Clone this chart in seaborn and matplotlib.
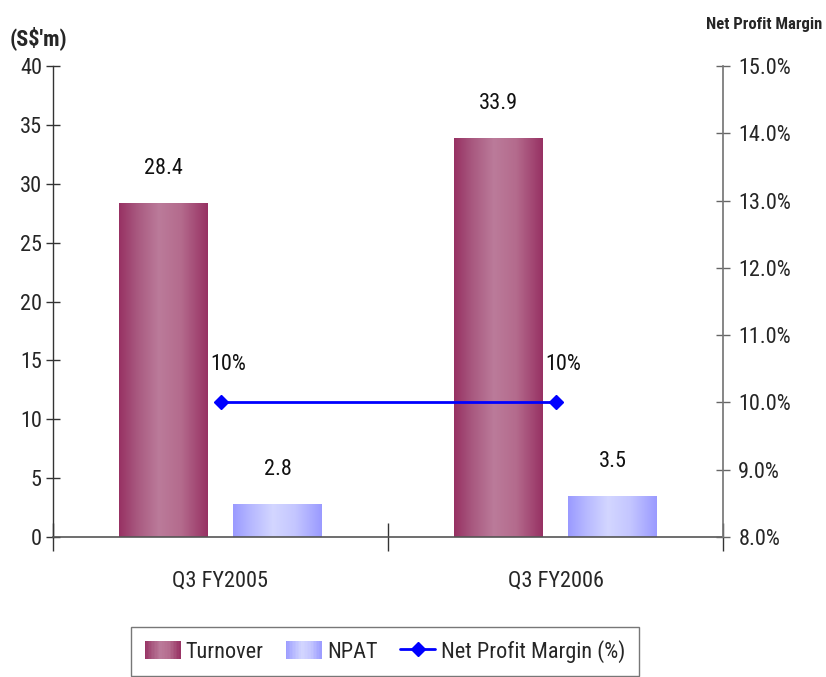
import numpy as np
import pandas as pd
import matplotlib
matplotlib.use("Agg")
import matplotlib.pyplot as plt
from matplotlib import font_manager
from matplotlib.colors import LinearSegmentedColormap
from matplotlib.legend_handler import HandlerBase
from matplotlib.patches import Rectangle
from matplotlib.lines import Line2D
import seaborn as sns

# ---- data ----
quarters = ["Q3 FY2005", "Q3 FY2006"]
turnover = [28.4, 33.9]
npat = [2.8, 3.5]
margin = [10, 10]
series_names = ["Turnover", "NPAT"]

sns.set_theme(style="white")
installed = {f.name for f in font_manager.fontManager.ttflist}
narrow = [n for n in ["Liberation Sans Narrow", "Roboto Condensed", "Open Sans Condensed",
                      "Arial Narrow", "DejaVu Sans Condensed", "Liberation Sans"]
          if n in installed]
plt.rcParams["font.family"] = narrow + ["DejaVu Sans"]
if "Liberation Sans Narrow" not in installed and "Roboto Condensed" not in installed:
    plt.rcParams["font.stretch"] = "condensed"

# gradient colour maps (dark edges, light centre)
turn_cmap = LinearSegmentedColormap.from_list(
    "turn", [(0, "#973163"), (0.2, "#a8587f"), (0.45, "#bb7b9a"), (0.7, "#b46b8d"), (1, "#973163")])
npat_cmap = LinearSegmentedColormap.from_list(
    "npat", [(0, "#9a9aff"), (0.2, "#b6b8ff"), (0.45, "#d3d6ff"), (0.7, "#c4c6ff"), (1, "#9a9aff")])
cmaps = {"Turnover": turn_cmap, "NPAT": npat_cmap}

df = pd.DataFrame({
    "quarter": quarters * 2,
    "series": ["Turnover"] * len(quarters) + ["NPAT"] * len(quarters),
    "value": turnover + npat,
})

fig = plt.figure(figsize=(8.26, 6.77), dpi=100)
ax = fig.add_axes([53 / 826, 1 - 537 / 677, (723 - 53) / 826, (537 - 66) / 677])

sns.barplot(data=df, x="quarter", y="value", hue="series", order=quarters,
            hue_order=series_names, width=0.685, gap=0.226, ax=ax,
            palette={"Turnover": "#973163", "NPAT": "#9a9aff"},
            legend=False, errorbar=None)

FS = 16

# paint gradients into each bar
grad = np.linspace(0, 1, 256).reshape(1, -1)
for cont, name in zip(ax.containers, series_names):
    for patch in cont.patches:
        x0, y0 = patch.get_x(), patch.get_y()
        w, h = patch.get_width(), patch.get_height()
        im = ax.imshow(grad, extent=[x0, x0 + w, y0, y0 + h], aspect="auto",
                       cmap=cmaps[name], zorder=patch.get_zorder() + 0.1)
        im.set_clip_path(patch)
        patch.set_edgecolor("none")
    labels = [f"{v:.1f}" for v in cont.datavalues]
    ax.bar_label(cont, labels=labels, padding=17, fontsize=FS, color="#111111")

ax.set_xlim(-0.5, len(quarters) - 0.5)
ax.set_ylim(0, 40)

# left axis
ax.set_yticks(range(0, 41, 5))
ax.tick_params(axis="y", direction="inout", length=10, width=1, color="#333333",
               labelsize=FS, pad=3, left=True)
ax.set_xlabel("")
ax.set_ylabel("")

# category ticks: labels centred, separators at boundaries
ax.set_xticks(range(len(quarters)))
ax.set_xticklabels(quarters)
ax.set_xticks(np.arange(-0.5, len(quarters), 1.0), minor=True)
ax.tick_params(axis="x", which="major", length=0, labelsize=FS, pad=24)
ax.tick_params(axis="x", which="minor", direction="inout", length=20, width=1,
               color="#333333", bottom=True)

for s in ["top", "right"]:
    ax.spines[s].set_visible(False)
ax.spines["left"].set_color("#333333")
ax.spines["bottom"].set_color("#555555")
ax.spines["left"].set_linewidth(1)
ax.spines["bottom"].set_linewidth(1.2)

# right axis: net profit margin
ax2 = ax.twinx()
x_pos = np.arange(len(quarters))
ax2.plot(x_pos, margin, color="#0000ff", lw=2, marker="D", markersize=7,
         markeredgecolor="#0000ff", markerfacecolor="#0000ff", zorder=5)
ax2.set_ylim(8, 15)
ax2.set_yticks(np.arange(8, 15.01, 1))
ax2.set_yticklabels([f"{v:.1f}%" for v in np.arange(8, 15.01, 1)])
ax2.tick_params(axis="y", direction="inout", length=10, width=1, color="#666666",
                labelsize=FS, pad=6, right=True)
for s in ["top", "left", "bottom"]:
    ax2.spines[s].set_visible(False)
ax2.spines["right"].set_color("#777777")
ax2.grid(False)
for xp, m in zip(x_pos, margin):
    ax2.annotate(f"{m:.0f}%", (xp, m), xytext=(-7, 20), textcoords="offset points",
                 ha="left", va="bottom", fontsize=FS, color="#111111")

# axis headings
fig.text(10 / 826, 1 - 38 / 677, "(S$'m)", ha="left", va="center",
         fontsize=FS, fontweight="bold")
fig.text(822 / 826, 1 - 24 / 677, "Net Profit Margin", ha="right", va="center",
         fontsize=12, fontweight="bold")


class GradientHandler(HandlerBase):
    def __init__(self, cmap):
        super().__init__()
        self.cmap = cmap

    def create_artists(self, legend, orig_handle, xdescent, ydescent, width,
                       height, fontsize, trans):
        n = 24
        arts = []
        for i in range(n):
            r = Rectangle((-xdescent + width * i / n, -ydescent), width / n + 0.3,
                          height, facecolor=self.cmap((i + 0.5) / n),
                          edgecolor="none", transform=trans)
            arts.append(r)
        return arts


h_turn = Rectangle((0, 0), 1, 1)
h_npat = Rectangle((0, 0), 1, 1)
h_line = Line2D([], [], color="#0000ff", lw=2, marker="D", markersize=7)
leg = fig.legend([h_turn, h_npat, h_line],
                 ["Turnover", "NPAT", "Net Profit Margin (%)"],
                 handler_map={h_turn: GradientHandler(turn_cmap),
                              h_npat: GradientHandler(npat_cmap)},
                 loc="lower center", bbox_to_anchor=(385 / 826, 0.001), ncol=3,
                 fontsize=FS, frameon=True, fancybox=False, edgecolor="#555555",
                 handlelength=1.6, handleheight=0.9, columnspacing=1.0,
                 handletextpad=0.25, borderpad=0.6, borderaxespad=0)
leg.get_frame().set_linewidth(1)

fig.savefig("out.png", dpi=100)
